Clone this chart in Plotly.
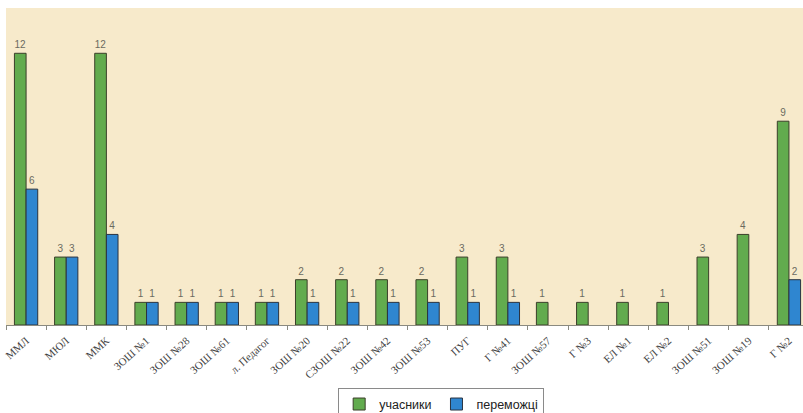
import plotly.graph_objects as go

categories = ["ММЛ", "МЮЛ", "ММК", "ЗОШ №1", "ЗОШ №28", "ЗОШ №61", "л. Педагог",
              "ЗОШ №20", "СЗОШ №22", "ЗОШ №42", "ЗОШ №53", "ПУГ", "Г №41",
              "ЗОШ №57", "Г №3", "ЕЛ №1", "ЕЛ №2", "ЗОШ №51", "ЗОШ №19", "Г №2"]
participants = [12, 3, 12, 1, 1, 1, 1, 2, 2, 2, 2, 3, 3, 1, 1, 1, 1, 3, 4, 9]
winners = [6, 3, 4, 1, 1, 1, 1, 1, 1, 1, 1, 1, 1, None, None, None, None, None, None, 2]

label_font = dict(family="Liberation Sans, Arial", size=10, color="#6b6b60")

fig = go.Figure()
fig.add_trace(go.Bar(
    x=categories, y=participants, name="учасники",
    marker=dict(color="#62ab4e", line=dict(color="#3b3f2a", width=1)),
    text=participants, textposition="outside", cliponaxis=False,
    textfont=label_font,
))
fig.add_trace(go.Bar(
    x=categories, y=winners, name="переможці",
    marker=dict(color="#2f86d0", line=dict(color="#2a3340", width=1)),
    text=winners, textposition="outside", cliponaxis=False,
    textfont=label_font,
))

fig.update_layout(
    width=803, height=413,
    margin=dict(l=6, r=0, t=8, b=88, autoexpand=False),
    paper_bgcolor="white",
    plot_bgcolor="#f7eacb",
    barmode="group",
    bargap=0.42,
    bargroupgap=0,
    showlegend=True,
    legend=dict(
        orientation="h", x=0.546, xanchor="center", y=-0.2, yanchor="top",
        bordercolor="#8a8a8a", borderwidth=1, bgcolor="white",
        font=dict(family="Liberation Sans, Arial", size=12.5, color="#222222"),
        itemwidth=30, traceorder="normal",
    ),
    xaxis=dict(
        range=[-0.5, 19.35],
        automargin=False,
        tickangle=-42,
        ticklabelstandoff=4,
        tickfont=dict(family="Liberation Serif, Times New Roman", size=11, color="#444444"),
        showline=True, linecolor="#8a8a80", linewidth=1,
        ticks="outside", ticklen=4, tickcolor="#8a8a80", tickson="boundaries",
        showgrid=False,
    ),
    yaxis=dict(
        range=[0, 14], showticklabels=False, showgrid=False, zeroline=False,
        showline=False, ticks="", automargin=False,
    ),
)

fig.write_html("out.html", config={"displayModeBar": False},
               post_script="document.body.style.margin='0';")
